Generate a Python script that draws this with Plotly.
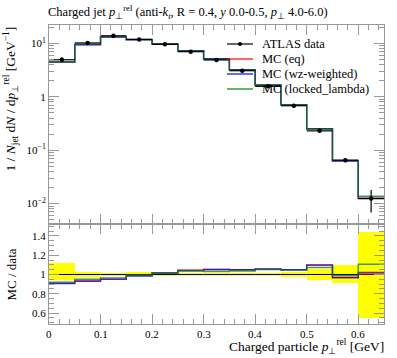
import plotly.graph_objects as go

# ---- data ----
bin_edges = [0.0, 0.05, 0.10, 0.15, 0.20, 0.25, 0.30, 0.35, 0.40, 0.45, 0.50, 0.55, 0.60, 0.65]
data_vals = [4.94, 10.2, 13.9, 11.9, 9.6, 7.0, 4.9, 3.08, 1.57, 0.68, 0.23, 0.065, 0.0124]
data_err_up = [0.59, 0.255, 0.28, 0.30, 0.19, 0.14, 0.098, 0.062, 0.031, 0.017, 0.014, 0.0065, 0.0055]
data_err_dn = [0.27, 0.255, 0.28, 0.18, 0.19, 0.14, 0.098, 0.062, 0.031, 0.017, 0.014, 0.0059, 0.0056]
mc_eq = [4.50, 9.54, 13.27, 11.78, 9.76, 7.32, 5.15, 3.23, 1.656, 0.714, 0.252, 0.0631, 0.01246]
mc_wz = [4.47, 9.47, 13.19, 11.72, 9.74, 7.28, 5.15, 3.23, 1.66, 0.713, 0.253, 0.0628, 0.01265]
mc_locked = [4.54, 9.69, 13.41, 11.84, 9.76, 7.25, 5.05, 3.19, 1.65, 0.711, 0.2466, 0.0644, 0.01371]
legend_labels = ["ATLAS data", "MC (eq)", "MC (wz-weighted)", "MC (locked_lambda)"]
main_tickvals = [0.01, 0.1, 1, 10]
main_ticktext = ["10<sup>−2</sup>", "10<sup>−1</sup>", "1", "10<sup>1</sup>"]
ratio_tickvals = [0.6, 0.8, 1.0, 1.2, 1.4]
ratio_ticktext = ["0.6", "0.8", "1", "1.2", "1.4"]
x_tickvals = [0, 0.1, 0.2, 0.3, 0.4, 0.5, 0.6]
x_ticktext = ["0", "0.1", "0.2", "0.3", "0.4", "0.5", "0.6"]

FONT = "Liberation Serif"
AX = "#999999"
W, H = 397, 358
ML, MR, MT, MB = 49, 13, 25, 34
PW, PH = W - ML - MR, H - MT - MB

centers = [(bin_edges[i] + bin_edges[i + 1]) / 2 for i in range(len(data_vals))]
halfw = [(bin_edges[i + 1] - bin_edges[i]) / 2 for i in range(len(data_vals))]

def hv(vals):
    return list(bin_edges), list(vals) + [vals[-1]]

def px2x(px):
    return (px - ML) / PW

def px2y(py):
    return (H - MB - py) / PH

fig = go.Figure()

mcs = [("MC (eq)", mc_eq, "red"), ("MC (wz-weighted)", mc_wz, "blue"),
       ("MC (locked_lambda)", mc_locked, "green")]

# main panel MC
for name, vals, col in mcs:
    xx, yy = hv(vals)
    fig.add_trace(go.Scatter(x=xx, y=yy, mode="lines", line=dict(color=col, width=1.4, shape="hv"),
                             opacity=0.75, showlegend=False, xaxis="x", yaxis="y"))

# data
fig.add_trace(go.Scatter(x=centers, y=data_vals, mode="markers",
                         marker=dict(color="black", size=4.5),
                         error_x=dict(type="data", array=halfw, color="black", thickness=1.2, width=0),
                         error_y=dict(type="data", array=data_err_up, arrayminus=data_err_dn,
                                      color="black", thickness=1.2, width=0),
                         showlegend=False, xaxis="x", yaxis="y"))

# ratio band
rel_up = [u / d for u, d in zip(data_err_up, data_vals)]
rel_dn = [u / d for u, d in zip(data_err_dn, data_vals)]
fig.add_trace(go.Bar(x=centers, y=[u + d for u, d in zip(rel_up, rel_dn)],
                     base=[1 - d for d in rel_dn], width=[2 * h for h in halfw],
                     marker=dict(color="yellow", line=dict(width=0)),
                     showlegend=False, xaxis="x2", yaxis="y2"))
xx, yy = hv([1.0] * len(data_vals))
fig.add_trace(go.Scatter(x=xx, y=yy, mode="lines", line=dict(color="black", width=1, shape="hv"),
                         showlegend=False, xaxis="x2", yaxis="y2"))
for name, vals, col in mcs:
    r = [v / d for v, d in zip(vals, data_vals)]
    xx, yy = hv(r)
    fig.add_trace(go.Scatter(x=xx, y=yy, mode="lines", line=dict(color=col, width=1.4, shape="hv"),
                             opacity=0.75, showlegend=False, xaxis="x2", yaxis="y2"))

axis_common = dict(showline=True, linecolor=AX, linewidth=1, mirror="ticks", ticks="inside",
                   tickcolor=AX, showgrid=False, zeroline=False,
                   tickfont=dict(family=FONT, size=11, color="black"))

main_dom_bottom = 100 / PH
fig.update_layout(
    width=W, height=H,
    margin=dict(l=ML, r=MR, t=MT, b=MB),
    paper_bgcolor="white", plot_bgcolor="white",
    bargap=0,
    showlegend=False,
    xaxis=dict(domain=[0, 1], range=[0, 0.65], anchor="y", showticklabels=False,
               tickvals=x_tickvals, ticklen=10,
               minor=dict(dtick=0.02, tick0=0, ticklen=5, ticks="inside", tickcolor=AX, showgrid=False),
               **axis_common),
    yaxis=dict(domain=[main_dom_bottom, 1], type="log", range=[-2.383, 1.345], anchor="x",
               tickvals=main_tickvals, ticktext=main_ticktext, ticklen=10,
               minor=dict(dtick="D1", ticklen=5, ticks="inside", tickcolor=AX, showgrid=False),
               **axis_common),
    xaxis2=dict(domain=[0, 1], range=[0, 0.65], anchor="y2", showticklabels=False,
                tickvals=x_tickvals, ticklen=10,
                minor=dict(dtick=0.02, tick0=0, ticklen=5, ticks="inside", tickcolor=AX, showgrid=False),
                **axis_common),
    yaxis2=dict(domain=[0, main_dom_bottom], range=[0.487, 1.523], anchor="x2",
                tickvals=ratio_tickvals, ticktext=ratio_ticktext, ticklen=10,
                minor=dict(dtick=0.05, tick0=0, ticklen=5, ticks="inside", tickcolor=AX, showgrid=False),
                **axis_common),
    font=dict(family=FONT, size=12, color="black"),
)

# x tick labels of the ratio panel, placed at the axis tick values
for tv, tt in zip(x_tickvals, x_ticktext):
    fig.add_annotation(text=tt, xref="x2", yref="paper", x=tv, y=0, yshift=-10,
                       xanchor="center", yanchor="middle", showarrow=False,
                       font=dict(family=FONT, size=11, color="black"))

# manual legend
leg_colors = ["black", "red", "blue", "green"]
leg_y = [44, 59, 74, 89]
for lab, col, py in zip(legend_labels, leg_colors, leg_y):
    fig.add_shape(type="line", xref="paper", yref="paper", x0=px2x(227), x1=px2x(253),
                  y0=px2y(py), y1=px2y(py), line=dict(color=col, width=1.2))
    fig.add_annotation(text=lab, xref="paper", yref="paper", x=px2x(260), y=px2y(py),
                       xanchor="left", yanchor="middle", showarrow=False,
                       font=dict(family=FONT, size=12.5, color="black"))
fig.add_shape(type="circle", xref="paper", yref="paper", x0=px2x(238), x1=px2x(242),
              y0=px2y(46), y1=px2y(42), fillcolor="black", line=dict(color="black", width=0))

fig.add_annotation(text="Charged jet <i>p</i><sub>⊥</sub><sup>rel</sup> (anti-<i>k</i><sub><i>t</i></sub>, R = 0.4, <i>y</i> 0.0-0.5, <i>p</i><sub>⊥</sub> 4.0-6.0)",
                   xref="paper", yref="paper", x=0.0, xshift=-3, y=1.0, yshift=2, xanchor="left", yanchor="bottom",
                   showarrow=False, font=dict(family=FONT, size=12.5))
fig.add_annotation(text="Charged particle <i>p</i><sub>⊥</sub><sup>rel</sup> [GeV]",
                   xref="paper", yref="paper", x=1.0, xshift=2, y=0, yshift=-34, xanchor="right", yanchor="bottom",
                   showarrow=False, font=dict(family=FONT, size=13.5))
fig.add_annotation(text="1 / <i>N</i><sub>jet</sub> d<i>N</i> / d<i>p</i><sub>⊥</sub><sup>rel</sup> [GeV<sup>−1</sup>]",
                   xref="paper", yref="paper", x=0, xshift=-38, y=1.0, xanchor="center", yanchor="top",
                   textangle=-90, showarrow=False, font=dict(family=FONT, size=13.5))
fig.add_annotation(text="MC / data",
                   xref="paper", yref="y2", x=0, xshift=-38, y=1.0, xanchor="center", yanchor="middle",
                   textangle=-90, showarrow=False, font=dict(family=FONT, size=13))

fig.write_html("out.html", config={"displayModeBar": False},
               post_script="document.body.style.margin='0';document.body.style.overflow='hidden';")
